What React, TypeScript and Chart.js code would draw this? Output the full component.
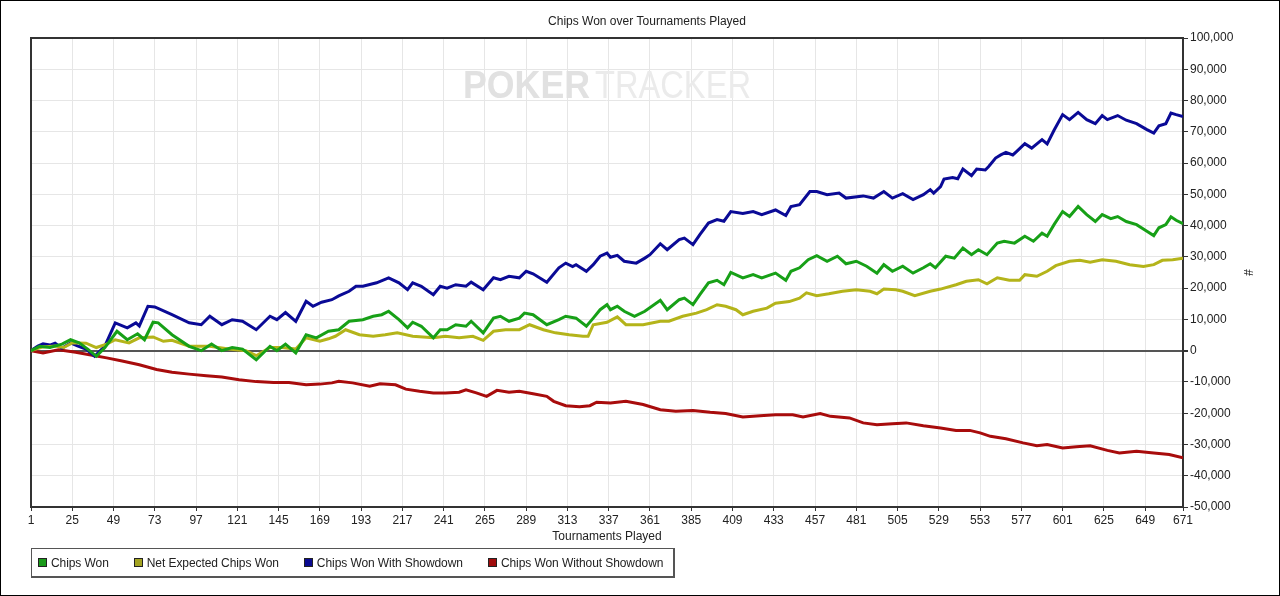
import { useEffect, useRef } from "react";
import { Chart, registerables } from "chart.js";

Chart.register(...registerables);

const FONT = '"Liberation Sans", Arial, Helvetica, sans-serif';

const TITLE = "Chips Won over Tournaments Played";
const X_TITLE = "Tournaments Played";
const Y_TITLE = "#";

const xTicks = [1, 25, 49, 73, 97, 121, 145, 169, 193, 217, 241, 265, 289, 313, 337, 361, 385, 409, 433, 457, 481, 505, 529, 553, 577, 601, 625, 649, 671];
const xMin = 1;
const xMax = 671;
const yMin = -50000;
const yMax = 100000;
const yStep = 10000;

const seriesNames = ["Chips Won", "Net Expected Chips Won", "Chips Won With Showdown", "Chips Won Without Showdown"];
const lineColors = ["#17a017", "#b4b41a", "#0a0a96", "#a80c0c"];
const legendColors = ["#1a9a1a", "#a3a321", "#0a0a90", "#a00c0c"];

// [tournament, chips]
const chipsWon: [number, number][] = [
  [1, 0], [6, 1400], [12, 1000], [19, 2100], [24, 3500], [29, 2500], [34, 500], [39, -1800], [44, 1000], [51, 6200],
  [57, 3500], [63, 5400], [67, 3500], [72, 9100], [75, 8900], [83, 5100], [93, 1400], [100, 0], [106, 2100], [112, 0],
  [118, 1000], [124, 500], [132, -2900], [140, 1400], [144, 0], [149, 2100], [155, -700], [161, 5100], [167, 4100], [174, 6200],
  [180, 6700], [186, 9400], [194, 9900], [200, 11000], [205, 11500], [209, 12600], [215, 9900], [220, 7300], [223, 9100], [228, 7800],
  [235, 4100], [239, 6700], [243, 6700], [248, 8300], [254, 7800], [257, 9400], [264, 5700], [270, 10400], [274, 11000], [279, 9400],
  [285, 10400], [288, 12000], [293, 11500], [301, 8300], [308, 9900], [312, 11000], [318, 10400], [324, 7800], [328, 10400], [332, 13100],
  [336, 14700], [338, 13100], [342, 14200], [346, 12600], [352, 11000], [358, 12600], [367, 16100], [371, 13100], [378, 16300], [381, 16800],
  [386, 14700], [390, 17900], [395, 21700], [400, 22500], [404, 21100], [408, 25000], [415, 23300], [421, 24300], [426, 23300], [434, 24800],
  [440, 22500], [443, 25400], [448, 26500], [453, 29100], [458, 30400], [464, 28600], [470, 30200], [475, 27800], [481, 28600], [487, 27000],
  [493, 24800], [497, 27500], [502, 25400], [508, 27000], [514, 24800], [520, 26500], [524, 27800], [527, 26500], [533, 30200], [538, 29600],
  [543, 32800], [548, 30700], [552, 32300], [557, 30700], [563, 34400], [567, 35000], [573, 34400], [579, 36600], [584, 35000], [589, 37600],
  [592, 36600], [596, 40300], [601, 44500], [605, 42900], [610, 46100], [615, 43500], [620, 41300], [624, 43500], [629, 42200], [633, 42900],
  [638, 41300], [644, 40300], [650, 38200], [654, 36800], [657, 39300], [661, 40300], [664, 42800], [667, 41700], [671, 40600],
];

const netExpected: [number, number][] = [
  [1, 0], [8, 1200], [15, 1500], [20, 1000], [25, 2500], [33, 2400], [39, 1000], [45, 2100], [50, 3500], [58, 2500],
  [64, 4100], [72, 4400], [78, 3000], [83, 3300], [93, 1400], [105, 1400], [116, 500], [126, 0], [132, -1600], [140, 1000],
  [147, 1000], [155, 500], [161, 4100], [169, 3000], [174, 3800], [178, 4600], [184, 6700], [192, 5100], [200, 4600], [207, 5100],
  [214, 5700], [223, 4600], [235, 4100], [242, 4600], [250, 4100], [258, 4600], [264, 3300], [270, 6200], [277, 6700], [285, 6700],
  [291, 8300], [299, 6700], [306, 5700], [314, 5100], [322, 4600], [325, 4600], [328, 8300], [336, 9100], [342, 10800], [347, 8300],
  [357, 8300], [367, 9400], [372, 9400], [380, 11000], [388, 12000], [394, 13100], [400, 14700], [405, 14200], [411, 13100], [415, 11500],
  [421, 12600], [429, 13600], [434, 15200], [442, 15700], [448, 16800], [452, 18500], [458, 17600], [465, 18200], [473, 19000], [481, 19500],
  [489, 19000], [493, 18200], [497, 19700], [504, 19500], [508, 19000], [515, 17600], [524, 19000], [530, 19700], [539, 21100], [545, 22200],
  [552, 22700], [557, 21400], [563, 23300], [570, 22500], [576, 22500], [579, 24300], [586, 23800], [592, 25400], [597, 27200], [605, 28600],
  [611, 28900], [617, 28300], [624, 29100], [632, 28600], [640, 27500], [648, 26900], [654, 27500], [659, 28900], [665, 29100], [671, 29600],
];

const withShowdown: [number, number][] = [
  [1, 0], [5, 1500], [8, 2200], [12, 1800], [15, 2400], [19, 800], [24, 2500], [28, 1500], [33, 500], [38, -1800],
  [44, 1500], [50, 8900], [57, 7300], [62, 8900], [64, 7900], [69, 14200], [73, 14000], [83, 11500], [93, 8900], [100, 8300],
  [105, 11000], [112, 8300], [118, 9900], [124, 9400], [132, 6700], [140, 11000], [144, 9900], [149, 12200], [155, 9400], [161, 15800],
  [165, 14200], [170, 15500], [176, 16300], [180, 17500], [186, 19000], [190, 20600], [194, 20600], [202, 21700], [209, 23300], [215, 21700],
  [220, 19500], [223, 21700], [228, 20600], [235, 17900], [239, 20600], [243, 20000], [248, 21100], [254, 20600], [257, 21900], [264, 19500],
  [270, 23300], [274, 22700], [279, 23800], [285, 23300], [289, 25400], [293, 24600], [301, 21900], [308, 26500], [312, 28000], [316, 26900],
  [318, 27500], [324, 25400], [328, 27500], [332, 30200], [336, 31200], [338, 29900], [342, 30500], [346, 28600], [353, 28000], [358, 29600],
  [361, 30700], [367, 34200], [371, 32300], [378, 35500], [381, 36000], [386, 33900], [390, 37100], [395, 40800], [400, 41900], [404, 41400],
  [408, 44500], [415, 43900], [421, 44500], [426, 43500], [434, 45000], [440, 43200], [443, 46100], [448, 46700], [454, 50900], [458, 50900],
  [464, 49900], [471, 50400], [475, 48800], [485, 49500], [491, 48800], [497, 50900], [502, 48800], [508, 50200], [514, 48300], [520, 49900],
  [524, 51500], [526, 50400], [530, 52500], [532, 54900], [537, 55400], [540, 55000], [543, 58100], [548, 56000], [551, 58100], [556, 57800],
  [558, 58900], [562, 61600], [565, 62600], [568, 63400], [572, 62600], [574, 63600], [579, 66200], [583, 64800], [589, 67500], [592, 66100],
  [596, 70500], [601, 75500], [605, 73900], [610, 76200], [615, 73900], [620, 72600], [624, 75200], [627, 73900], [633, 75200], [638, 73700],
  [644, 72600], [650, 70700], [654, 69600], [657, 71900], [661, 72600], [664, 76000], [667, 75500], [671, 74900],
];

const withoutShowdown: [number, number][] = [
  [1, 0], [8, -700], [17, 300], [27, -500], [35, -1300], [45, -2300], [54, -3300], [64, -4500], [74, -6000], [83, -6900],
  [93, -7500], [103, -8000], [112, -8400], [122, -9300], [132, -9900], [142, -10200], [151, -10200], [161, -10900], [169, -10700], [176, -10300],
  [180, -9800], [188, -10300], [198, -11400], [204, -10600], [213, -10900], [219, -12300], [227, -13000], [235, -13500], [242, -13500], [250, -13300],
  [254, -12500], [260, -13500], [266, -14600], [272, -12700], [279, -13300], [285, -13000], [293, -13800], [301, -14600], [305, -16200], [312, -17600],
  [320, -17900], [326, -17600], [330, -16500], [338, -16700], [347, -16200], [357, -17200], [367, -18900], [376, -19400], [386, -19100], [396, -19700],
  [405, -20100], [415, -21200], [425, -20800], [434, -20500], [444, -20500], [450, -21200], [460, -20100], [466, -21000], [477, -21500], [485, -23100],
  [493, -23700], [502, -23400], [510, -23100], [520, -24000], [530, -24700], [539, -25500], [547, -25500], [553, -26300], [559, -27400], [568, -28200],
  [578, -29500], [586, -30400], [592, -30000], [601, -31100], [609, -30700], [617, -30400], [627, -31900], [634, -32700], [644, -32200], [654, -32700],
  [663, -33200], [671, -34300],
];

const seriesData = [chipsWon, netExpected, withShowdown, withoutShowdown];

const frameAndWatermarkPlugin = {
  id: "frameAndWatermark",
  beforeDatasetsDraw(chart: any) {
    const { ctx, chartArea } = chart;
    ctx.save();
    // left and top frame of the plot area
    ctx.strokeStyle = "#333";
    ctx.lineWidth = 2;
    ctx.beginPath();
    ctx.moveTo(chartArea.left, chartArea.bottom);
    ctx.lineTo(chartArea.left, chartArea.top);
    ctx.lineTo(chartArea.right, chartArea.top);
    ctx.stroke();

    // watermark
    const cx = (chartArea.left + chartArea.right) / 2;
    const baseY = chartArea.top + 60;
    const w1 = 127;
    const w2 = 156;
    const gap = 5;
    const x0 = cx - (w1 + gap + w2) / 2;
    ctx.textBaseline = "alphabetic";
    ctx.textAlign = "left";
    ctx.font = `bold 39px ${FONT}`;
    ctx.fillStyle = "#e1e1e1";
    ctx.fillText("POKER", x0, baseY, w1);
    ctx.font = `39px ${FONT}`;
    ctx.fillStyle = "#ebebeb";
    ctx.fillText("TRACKER", x0 + w1 + gap, baseY, w2);
    ctx.restore();
  },
};

export default function App() {
  const ref = useRef<HTMLCanvasElement>(null);

  useEffect(() => {
    if (!ref.current) return;
    Chart.defaults.font.family = FONT;
    const chart = new Chart(ref.current, {
      type: "line",
      data: {
        datasets: seriesData.map((s, i) => ({
          label: seriesNames[i],
          data: s.map(([x, y]) => ({ x, y })),
          borderColor: lineColors[i],
          backgroundColor: lineColors[i],
          borderWidth: 3,
          pointRadius: 0,
          tension: 0,
          fill: false,
        })),
      },
      options: {
        responsive: false,
        animation: false,
        devicePixelRatio: 1,
        layout: { padding: { left: 30, right: 16, top: 0, bottom: 48.8 } },
        plugins: {
          legend: { display: false },
          tooltip: { enabled: false },
          title: {
            display: true,
            text: TITLE,
            color: "#222",
            font: { size: 12, weight: "normal", family: FONT },
            padding: { top: 13, bottom: 9.6 },
          },
        },
        scales: {
          x: {
            type: "linear",
            min: xMin,
            max: xMax,
            afterBuildTicks: (s: any) => {
              s.ticks = xTicks.map((v) => ({ value: v }));
            },
            afterFit: (s: any) => {
              s.height = 39.2;
            },
            ticks: {
              autoSkip: false,
              maxRotation: 0,
              minRotation: 0,
              padding: 2,
              color: "#222",
              font: { size: 12 },
              callback: (v: any) => String(v),
            },
            grid: {
              color: "#e6e6e6",
              lineWidth: 1,
              tickLength: 4,
              tickColor: "#333",
              drawTicks: true,
            },
            border: { display: true, color: "#333", width: 2 },
            title: {
              display: true,
              text: X_TITLE,
              color: "#222",
              font: { size: 12 },
              padding: { top: 0, bottom: 2 },
            },
          },
          y: {
            type: "linear",
            position: "right",
            min: yMin,
            max: yMax,
            afterFit: (s: any) => {
              s.width = 80;
            },
            ticks: {
              stepSize: yStep,
              padding: 2,
              color: "#222",
              font: { size: 12 },
              callback: (v: any) => Number(v).toLocaleString("en-US"),
            },
            grid: {
              color: (c: any) => {
                const v = c.tick ? c.tick.value : null;
                return v === 0 ? "#555" : "#e6e6e6";
              },
              lineWidth: (c: any) => {
                const v = c.tick ? c.tick.value : null;
                return v === 0 ? 2 : 1;
              },
              tickLength: 5,
              tickColor: "#333",
            },
            border: { display: true, color: "#333", width: 2 },
            title: {
              display: true,
              text: Y_TITLE,
              color: "#222",
              font: { size: 12 },
              padding: { top: 8.8, bottom: 0 },
            },
          },
        },
      } as any,
      plugins: [frameAndWatermarkPlugin],
    });
    return () => chart.destroy();
  }, []);

  return (
    <div
      style={{
        position: "absolute",
        left: 0,
        top: 0,
        width: 1280,
        height: 596,
        border: "1px solid #000",
        boxSizing: "border-box",
        background: "#fff",
        fontFamily: FONT,
      }}
    >
      <canvas
        ref={ref}
        width={1278}
        height={594}
        style={{ position: "absolute", left: 0, top: 0, width: 1278, height: 594 }}
      />
      <div
        style={{
          position: "absolute",
          left: 30,
          top: 547,
          width: 644,
          height: 30,
          borderTop: "1px solid #555",
          borderLeft: "1px solid #555",
          borderRight: "2px solid #555",
          borderBottom: "2px solid #555",
          boxSizing: "border-box",
          display: "flex",
          alignItems: "center",
          paddingLeft: 6,
          fontSize: 12,
          color: "#222",
          whiteSpace: "nowrap",
          letterSpacing: "-0.08px",
        }}
      >
        {seriesNames.map((name, i) => (
          <div key={name} style={{ display: "flex", alignItems: "center", marginRight: 25 }}>
            <span
              style={{
                display: "inline-block",
                width: 9,
                height: 9,
                boxSizing: "border-box",
                border: "1px solid #222",
                background: legendColors[i],
                marginRight: 4,
              }}
            />
            <span>{name}</span>
          </div>
        ))}
      </div>
    </div>
  );
}
